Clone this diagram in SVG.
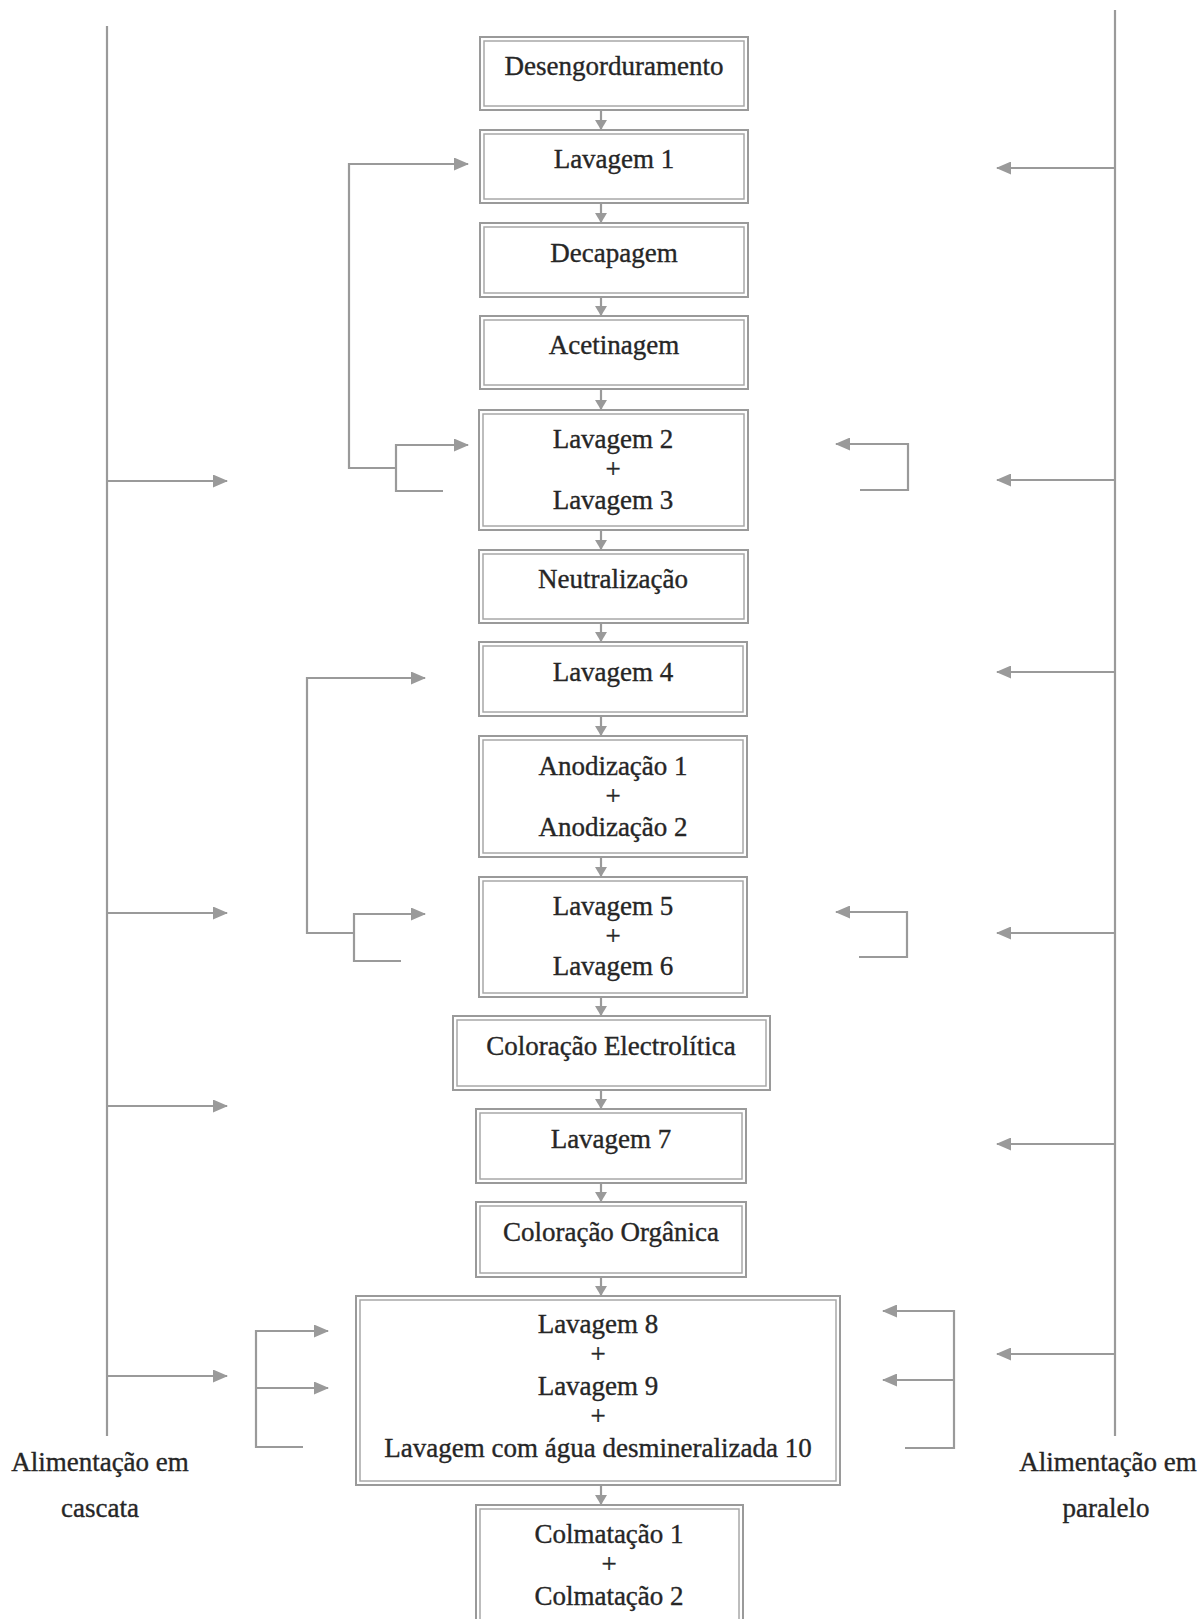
<svg xmlns="http://www.w3.org/2000/svg" width="1204" height="1619" viewBox="0 0 1204 1619">
<defs>
<style>
.box-o{fill:#ffffff;stroke:#9a9a9a;stroke-width:2}
.box-i{fill:none;stroke:#a8a8a8;stroke-width:1.5}
.t{font-family:"Liberation Serif","Times New Roman",serif;font-size:27px;fill:#262626;stroke:#262626;stroke-width:0.35;text-anchor:middle}
.ln{fill:none;stroke:#9a9a9a;stroke-width:2.2}
.arr{fill:none;stroke:#9a9a9a;stroke-width:2.2;marker-end:url(#ah)}
.varr{fill:none;stroke:#9a9a9a;stroke-width:2.2;marker-end:url(#vh)}
</style>
<marker id="ah" markerUnits="userSpaceOnUse" markerWidth="15" markerHeight="13" refX="14" refY="6.5" orient="auto">
<path d="M0,0 L15,6.5 L0,13 z" fill="#9a9a9a"/>
</marker>
<marker id="vh" markerUnits="userSpaceOnUse" markerWidth="11" markerHeight="12" refX="9" refY="6" orient="auto">
<path d="M0,0 L10,6 L0,12 z" fill="#9a9a9a"/>
</marker>
</defs>
<rect width="1204" height="1619" fill="#ffffff"/>

<g id="connectors">
<path class="varr" d="M601 110 V129"/>
<path class="varr" d="M601 203 V222"/>
<path class="varr" d="M601 297 V315"/>
<path class="varr" d="M601 389 V409"/>
<path class="varr" d="M601 530 V549"/>
<path class="varr" d="M601 623 V641"/>
<path class="varr" d="M601 716 V735"/>
<path class="varr" d="M601 857 V876"/>
<path class="varr" d="M601 997 V1015"/>
<path class="varr" d="M601 1090 V1108"/>
<path class="varr" d="M601 1183 V1201"/>
<path class="varr" d="M601 1277 V1295"/>
<path class="varr" d="M601 1485 V1504"/>

<path class="ln" d="M107 26 V1436"/>
<path class="arr" d="M107 481 H227"/>
<path class="arr" d="M107 913 H227"/>
<path class="arr" d="M107 1106 H227"/>
<path class="arr" d="M107 1376 H227"/>

<path class="arr" d="M396 468 H349 V164 H468"/>
<path class="arr" d="M443 491 H396 V445 H468"/>

<path class="arr" d="M354 933 H307 V678 H425"/>
<path class="arr" d="M401 961 H354 V914 H425"/>

<path class="arr" d="M303 1447 H256 V1331 H328"/>
<path class="arr" d="M256 1388 H328"/>

<path class="ln" d="M1115 10 V1436"/>
<path class="arr" d="M1115 168 H997"/>
<path class="arr" d="M1115 480 H997"/>
<path class="arr" d="M1115 672 H997"/>
<path class="arr" d="M1115 933 H997"/>
<path class="arr" d="M1115 1144 H997"/>
<path class="arr" d="M1115 1354 H997"/>

<path class="arr" d="M860 490 H908 V444 H836"/>
<path class="arr" d="M859 957 H907 V912 H836"/>
<path class="arr" d="M905 1448 H954 V1311 H883"/>
<path class="arr" d="M954 1380 H883"/>
</g>

<g id="n-desengorduramento">
<rect class="box-o" x="480" y="37" width="268" height="73"/>
<rect class="box-i" x="484" y="41" width="260" height="65"/>
<text class="t" x="614" y="75">Desengorduramento</text>
</g>
<g id="n-lavagem1">
<rect class="box-o" x="480" y="130" width="268" height="73"/>
<rect class="box-i" x="484" y="134" width="260" height="65"/>
<text class="t" x="614" y="168">Lavagem 1</text>
</g>
<g id="n-decapagem">
<rect class="box-o" x="480" y="223" width="268" height="74"/>
<rect class="box-i" x="484" y="227" width="260" height="66"/>
<text class="t" x="614" y="262">Decapagem</text>
</g>
<g id="n-acetinagem">
<rect class="box-o" x="480" y="316" width="268" height="73"/>
<rect class="box-i" x="484" y="320" width="260" height="65"/>
<text class="t" x="614" y="354">Acetinagem</text>
</g>
<g id="n-lavagem23">
<rect class="box-o" x="479" y="410" width="269" height="120"/>
<rect class="box-i" x="483" y="414" width="261" height="112"/>
<text class="t" x="613" y="448">Lavagem 2</text>
<text class="t" x="613" y="478">+</text>
<text class="t" x="613" y="509">Lavagem 3</text>
</g>
<g id="n-neutralizacao">
<rect class="box-o" x="479" y="550" width="269" height="73"/>
<rect class="box-i" x="483" y="554" width="261" height="65"/>
<text class="t" x="613" y="588">Neutralização</text>
</g>
<g id="n-lavagem4">
<rect class="box-o" x="479" y="642" width="268" height="74"/>
<rect class="box-i" x="483" y="646" width="260" height="66"/>
<text class="t" x="613" y="681">Lavagem 4</text>
</g>
<g id="n-anodizacao">
<rect class="box-o" x="479" y="736" width="268" height="121"/>
<rect class="box-i" x="483" y="740" width="260" height="113"/>
<text class="t" x="613" y="775">Anodização 1</text>
<text class="t" x="613" y="805">+</text>
<text class="t" x="613" y="836">Anodização 2</text>
</g>
<g id="n-lavagem56">
<rect class="box-o" x="479" y="877" width="268" height="120"/>
<rect class="box-i" x="483" y="881" width="260" height="112"/>
<text class="t" x="613" y="915">Lavagem 5</text>
<text class="t" x="613" y="945">+</text>
<text class="t" x="613" y="975">Lavagem 6</text>
</g>
<g id="n-coloracao-electrolitica">
<rect class="box-o" x="453" y="1016" width="317" height="74"/>
<rect class="box-i" x="457" y="1020" width="309" height="66"/>
<text class="t" x="611" y="1055">Coloração Electrolítica</text>
</g>
<g id="n-lavagem7">
<rect class="box-o" x="476" y="1109" width="270" height="74"/>
<rect class="box-i" x="480" y="1113" width="262" height="66"/>
<text class="t" x="611" y="1148">Lavagem 7</text>
</g>
<g id="n-coloracao-organica">
<rect class="box-o" x="476" y="1202" width="270" height="75"/>
<rect class="box-i" x="480" y="1206" width="262" height="67"/>
<text class="t" x="611" y="1241">Coloração Orgânica</text>
</g>
<g id="n-lavagem8-10">
<rect class="box-o" x="356" y="1296" width="484" height="189"/>
<rect class="box-i" x="360" y="1300" width="476" height="181"/>
<text class="t" x="598" y="1333">Lavagem 8</text>
<text class="t" x="598" y="1363">+</text>
<text class="t" x="598" y="1395">Lavagem 9</text>
<text class="t" x="598" y="1425">+</text>
<text class="t" x="598" y="1457">Lavagem com água desmineralizada 10</text>
</g>
<g id="n-colmatacao">
<rect class="box-o" x="476" y="1505" width="267" height="130"/>
<rect class="box-i" x="480" y="1509" width="259" height="122"/>
<text class="t" x="609" y="1543">Colmatação 1</text>
<text class="t" x="609" y="1573">+</text>
<text class="t" x="609" y="1605">Colmatação 2</text>
</g>

<g id="label-cascata">
<text class="t" x="100" y="1471">Alimentação em</text>
<text class="t" x="100" y="1517">cascata</text>
</g>
<g id="label-paralelo">
<text class="t" x="1108" y="1471">Alimentação em</text>
<text class="t" x="1106" y="1517">paralelo</text>
</g>
</svg>
